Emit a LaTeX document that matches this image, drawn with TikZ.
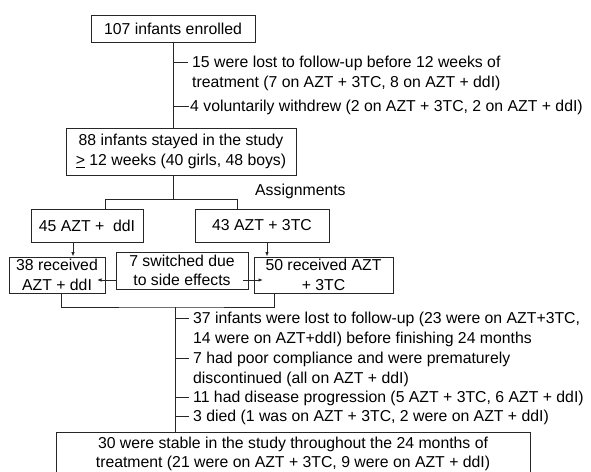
\documentclass[tikz,border=0pt]{standalone}
\usepackage{fontspec}
\setmainfont{Liberation Sans}
\usetikzlibrary{arrows.meta}
\begin{document}
\begin{tikzpicture}[x=1pt,y=-1pt,
  every node/.style={font=\fontsize{15.8}{19.5}\selectfont, text=black},
  box/.style={draw=black!85, line width=0.9pt, inner sep=0pt, align=center},
  side/.style={inner sep=0pt, align=left, anchor=north west},
  ln/.style={draw=black!85, line width=0.9pt},
  arr/.style={ln, -{Latex[length=4.5pt,width=3.5pt]}}
]
\useasboundingbox (0,0) rectangle (591,471);
\fill[white] (0,0) rectangle (591,471);

% top part
\node[box, minimum width=164pt, minimum height=27pt] (b1) at (173,28.5) {107 infants enrolled};
\node[box, minimum width=230pt, minimum height=47pt] (b2) at (181,151.5) {88 infants stayed in the study\\\underline{>} 12 weeks (40 girls, 48 boys)};
\draw[ln] (b1.south) -- (b1.south |- b2.north);

\node[side] (t1) at (192,56) {15 were lost to follow-up before 12 weeks of\\treatment (7 on AZT + 3TC, 8 on AZT + ddI)};
\node[side] (t2) at (190,100) {4 voluntarily withdrew (2 on AZT + 3TC, 2 on AZT + ddI)};
\coordinate (k1) at (173,62);
\coordinate (k2) at (173,106);
\draw[ln] (k1) -- ++(15pt,0);
\draw[ln] (k2) -- ++(16pt,0);

% assignments
\node[box, minimum width=112pt, minimum height=33pt] (b45) at (87,225.5) {45 AZT +\ \ ddI};
\node[box, minimum width=134pt, minimum height=33pt] (b43) at (262,225.5) {43 AZT + 3TC};
\node[anchor=west, inner sep=0pt] (as) at (255,191) {Assignments};
\coordinate (s0) at (173,199);
\coordinate (sl) at (105,199);
\coordinate (sr) at (237,199);
\draw[ln] (s0 |- b2.south) -- (s0);
\draw[ln] (sl |- b45.north) -- (sl) -- (sr) -- (sr |- b43.north);

% received
\node[box, minimum width=96pt, minimum height=36pt] (b38) at (57,275) {38 received\\AZT + ddI};
\node[box, minimum width=132pt, minimum height=37pt] (bsw) at (182,270.5) {7 switched due\\to side effects};
\node[box, minimum width=139pt, minimum height=36pt] (b50) at (323.5,275) {50 received AZT\\+ 3TC};
\draw[arr] ([xshift=-14pt]b45.south) -- ([xshift=-14pt]b45.south |- b38.north);
\draw[arr] ([xshift=5pt]b43.south) -- ([xshift=5pt]b43.south |- b50.north);
\coordinate (la) at (116,280);
\coordinate (lb) at (97,280);
\coordinate (ra) at (243,280);
\coordinate (rb) at (263,280);
\draw[arr] (la) -- (lb);
\draw[arr] (ra) -- (rb);

% final
\node[box, minimum width=474pt, minimum height=44pt] (bf) at (293,454) {30 were stable in the study throughout the 24 months of\\treatment (21 were on AZT + 3TC, 9 were on AZT + ddI)};
\coordinate (j0) at (175,307);
\draw[ln] ([xshift=4pt]b38.south) |- (j0) -| ([xshift=-49.5pt]b50.south);
\draw[ln] (j0) -- (j0 |- bf.north);

\foreach \yy/\nn in {318/k3,358/k4,397/k5,416/k6} {
  \coordinate (\nn) at (175,\yy);
  \draw[ln] (\nn) -- ++(14pt,0);
}
\node[side] (t3) at (193,312) {37 infants were lost to follow-up (23 were on AZT+3TC,\\14 were on AZT+ddI) before finishing 24 months};
\node[side] (t4) at (193,352) {7 had poor compliance and were prematurely\\discontinued (all on AZT + ddI)};
\node[side] (t5) at (193,391) {11 had disease progression (5 AZT + 3TC, 6 AZT + ddI)};
\node[side] (t6) at (193,410) {3 died (1 was on AZT + 3TC, 2 were on AZT + ddI)};
\end{tikzpicture}
\end{document}
